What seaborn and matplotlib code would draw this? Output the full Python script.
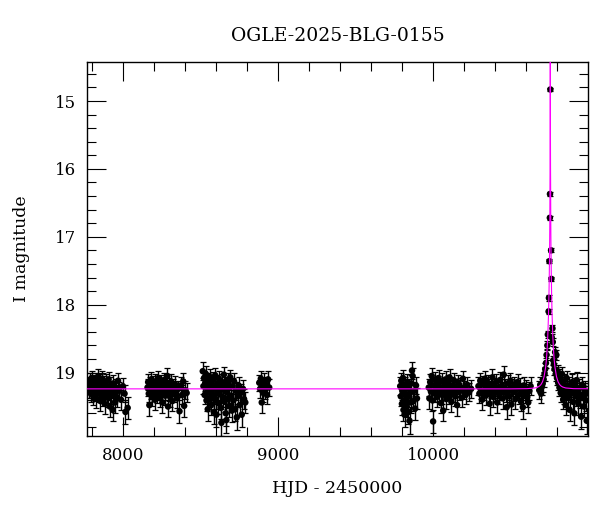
import numpy as np
import pandas as pd
import matplotlib
matplotlib.use("Agg")
import matplotlib.pyplot as plt
from matplotlib.ticker import MultipleLocator
import seaborn as sns

# (HJD-2450000, I mag, error) per observing season
season1 = [(7782, 19.18, .12), (7786, 19.25, .13), (7789, 19.12, .11), (7793, 19.30, .13), (7797, 19.21, .12),
           (7800, 19.08, .11), (7804, 19.27, .13), (7809, 19.34, .14), (7813, 19.15, .12), (7816, 19.22, .12),
           (7820, 19.29, .13), (7825, 19.11, .11), (7829, 19.38, .14), (7832, 19.19, .12), (7836, 19.24, .12),
           (7841, 19.06, .11), (7845, 19.31, .13), (7848, 19.26, .13), (7852, 19.14, .12), (7857, 19.42, .15),
           (7861, 19.20, .12), (7864, 19.28, .13), (7868, 19.09, .11), (7873, 19.35, .14), (7877, 19.23, .12),
           (7880, 19.17, .12), (7884, 19.46, .15), (7889, 19.26, .13), (7893, 19.13, .11), (7896, 19.32, .13),
           (7900, 19.21, .12), (7905, 19.37, .14), (7909, 19.10, .11), (7913, 19.27, .13), (7917, 19.50, .16),
           (7921, 19.19, .12), (7926, 19.33, .14), (7930, 19.24, .12), (7935, 19.55, .17), (7940, 19.16, .12),
           (7946, 19.29, .13), (7951, 19.44, .15), (7957, 19.22, .12), (7963, 19.36, .14), (7970, 19.12, .11),
           (7978, 19.27, .13), (7989, 19.40, .15), (8001, 19.20, .12), (8012, 19.31, .13), (8018, 19.58, .18),
           (8032, 19.52, .16)]
season2 = [(8160, 19.22, .12), (8164, 19.14, .12), (8168, 19.31, .13), (8172, 19.48, .16), (8176, 19.19, .12),
           (8180, 19.26, .13), (8185, 19.10, .11), (8189, 19.35, .14), (8193, 19.23, .12), (8198, 19.17, .12),
           (8202, 19.29, .13), (8207, 19.40, .15), (8211, 19.13, .11), (8216, 19.25, .13), (8220, 19.32, .13),
           (8225, 19.19, .12), (8229, 19.08, .11), (8234, 19.28, .13), (8238, 19.37, .14), (8243, 19.21, .12),
           (8247, 19.15, .12), (8252, 19.30, .13), (8256, 19.44, .15), (8261, 19.24, .12), (8265, 19.11, .11),
           (8270, 19.27, .13), (8274, 19.34, .14), (8279, 19.18, .12), (8283, 19.23, .12), (8288, 19.05, .11),
           (8292, 19.50, .16), (8297, 19.29, .13), (8301, 19.20, .12), (8306, 19.36, .14), (8310, 19.14, .12),
           (8315, 19.26, .13), (8320, 19.42, .15), (8325, 19.22, .12), (8331, 19.31, .13), (8337, 19.17, .12),
           (8344, 19.28, .13), (8351, 19.38, .14), (8358, 19.24, .12), (8366, 19.57, .17), (8374, 19.19, .12),
           (8382, 19.33, .14), (8390, 19.13, .12), (8396, 19.49, .16), (8404, 19.26, .13), (8412, 19.30, .14)]
season3 = [(8516, 18.98, .13), (8520, 19.20, .12), (8524, 19.08, .11), (8528, 19.33, .14), (8532, 19.15, .12),
           (8536, 19.02, .11), (8540, 19.41, .15), (8544, 19.24, .12), (8548, 19.54, .17), (8552, 19.12, .11),
           (8556, 19.29, .13), (8560, 19.06, .11), (8564, 19.37, .14), (8568, 19.19, .12), (8572, 19.47, .16),
           (8576, 19.26, .13), (8580, 19.10, .11), (8584, 19.33, .14), (8588, 19.58, .18), (8592, 19.21, .12),
           (8596, 19.04, .11), (8600, 19.39, .15), (8604, 19.62, .18), (8608, 19.16, .12), (8612, 19.28, .13),
           (8616, 19.45, .16), (8620, 19.09, .11), (8624, 19.31, .13), (8628, 19.22, .12), (8632, 19.52, .17),
           (8636, 19.74, .20), (8640, 19.14, .12), (8644, 19.36, .14), (8648, 19.25, .13), (8652, 19.03, .11),
           (8656, 19.43, .15), (8660, 19.18, .12), (8664, 19.60, .18), (8668, 19.70, .19), (8672, 19.29, .13),
           (8676, 19.11, .11), (8680, 19.38, .14), (8684, 19.23, .12), (8688, 19.49, .16), (8693, 19.07, .11),
           (8698, 19.34, .14), (8703, 19.56, .17), (8708, 19.20, .12), (8713, 19.41, .15), (8718, 19.13, .12),
           (8724, 19.54, .17), (8729, 19.27, .13), (8735, 19.66, .19), (8741, 19.35, .14), (8747, 19.19, .12),
           (8753, 19.48, .16), (8760, 19.30, .13), (8767, 19.62, .18), (8775, 19.24, .13), (8782, 19.39, .15),
           (8790, 19.44, .15)]
season4 = [(8880, 19.15, .12), (8885, 19.24, .13), (8890, 19.09, .12), (8896, 19.44, .16), (8901, 19.20, .12),
           (8906, 19.30, .13), (8911, 19.12, .12), (8917, 19.26, .13), (8923, 19.18, .12), (8930, 19.33, .14),
           (8937, 19.10, .12), (8944, 19.22, .13)]
season5 = [(9788, 19.20, .13), (9792, 19.35, .14), (9795, 19.12, .12), (9799, 19.46, .16), (9802, 19.27, .13),
           (9806, 19.08, .12), (9809, 19.55, .17), (9813, 19.31, .14), (9816, 19.62, .18), (9820, 19.18, .12),
           (9823, 19.40, .15), (9827, 19.24, .13), (9830, 19.50, .16), (9834, 19.14, .12), (9837, 19.36, .14),
           (9841, 19.58, .18), (9844, 19.22, .13), (9848, 19.71, .20), (9852, 19.30, .14), (9856, 19.44, .15),
           (9860, 19.16, .12), (9864, 18.97, .13), (9868, 19.05, .12), (9873, 19.42, .15), (9878, 19.27, .13),
           (9884, 19.53, .17), (9890, 19.19, .13), (9896, 19.38, .15)]
season6 = [(9972, 19.22, .13), (9976, 19.38, .15), (9981, 19.14, .12), (9986, 19.28, .13), (9991, 19.05, .12),
           (9996, 19.41, .15), (10000, 19.72, .17), (10005, 19.19, .12), (10010, 19.31, .13), (10015, 19.11, .12),
           (10020, 19.25, .13), (10025, 19.36, .14), (10030, 19.17, .12), (10035, 19.08, .12), (10040, 19.29, .13),
           (10045, 19.22, .12), (10050, 19.45, .15), (10055, 19.13, .12), (10060, 19.33, .14), (10065, 19.56, .16),
           (10070, 19.20, .12), (10075, 19.27, .13), (10080, 19.10, .12), (10085, 19.39, .15), (10090, 19.24, .13),
           (10095, 19.16, .12), (10100, 19.32, .14), (10106, 19.07, .12), (10112, 19.26, .13), (10118, 19.43, .15),
           (10124, 19.19, .12), (10130, 19.30, .13), (10136, 19.12, .12), (10142, 19.35, .14), (10148, 19.23, .13),
           (10155, 19.48, .16), (10162, 19.15, .12), (10169, 19.28, .13), (10176, 19.21, .13), (10184, 19.37, .14),
           (10192, 19.09, .12), (10200, 19.26, .13), (10210, 19.33, .14), (10220, 19.18, .12), (10232, 19.29, .13),
           (10245, 19.24, .13)]
season7 = [(10292, 19.20, .13), (10298, 19.31, .14), (10304, 19.12, .12), (10310, 19.26, .13), (10316, 19.40, .15),
           (10322, 19.17, .12), (10328, 19.28, .13), (10334, 19.09, .12), (10340, 19.34, .14), (10346, 19.22, .13),
           (10352, 19.15, .12), (10358, 19.30, .13), (10364, 19.46, .16), (10370, 19.19, .12), (10376, 19.25, .13),
           (10382, 19.07, .12), (10388, 19.36, .14), (10394, 19.21, .13), (10400, 19.29, .13), (10406, 19.14, .12),
           (10413, 19.44, .15), (10419, 19.24, .13), (10425, 19.32, .14), (10431, 19.11, .12), (10437, 19.27, .13),
           (10443, 19.19, .12), (10449, 19.38, .15), (10455, 19.03, .12), (10461, 19.23, .13), (10467, 19.30, .14),
           (10474, 19.51, .17), (10480, 19.16, .12), (10486, 19.27, .13), (10492, 19.35, .14), (10498, 19.12, .12),
           (10505, 19.47, .16), (10511, 19.22, .13), (10517, 19.29, .13), (10523, 19.18, .12), (10530, 19.39, .15),
           (10537, 19.25, .13), (10544, 19.14, .12), (10551, 19.33, .14), (10558, 19.21, .13), (10565, 19.42, .15),
           (10572, 19.28, .13), (10578, 19.51, .17), (10585, 19.19, .12), (10592, 19.31, .14), (10599, 19.24, .13),
           (10606, 19.36, .14), (10613, 19.44, .16), (10620, 19.27, .13), (10628, 19.20, .13)]
season8 = [(10684, 19.26, .13), (10690, 19.18, .12), (10696, 19.31, .14), (10700, 19.21, .12), (10706, 19.16, .12),
           (10712, 19.10, .11), (10718, 19.02, .10), (10722, 18.95, .09), (10727, 18.86, .08), (10731, 18.74, .07),
           (10736, 18.60, .06), (10739, 18.44, .05), (10744, 18.10, .04), (10746, 17.90, .04), (10749, 17.36, .03),
           (10752.1, 16.72, .03), (10752.9, 16.37, .03), (10755.4, 14.83, .02), (10760, 17.20, .03),
           (10762, 17.62, .03), (10764, 18.48, .05), (10769, 18.35, .05), (10771, 18.55, .06), (10774, 18.82, .07),
           (10778, 18.88, .08), (10782, 18.95, .09), (10786, 18.70, .07), (10790, 19.02, .10), (10794, 18.74, .07),
           (10798, 19.08, .10), (10802, 18.98, .09), (10806, 19.15, .11), (10810, 19.05, .10), (10814, 19.22, .12),
           (10818, 19.11, .11), (10822, 19.30, .13), (10826, 19.17, .11), (10830, 19.02, .10), (10834, 19.26, .12),
           (10838, 19.40, .14), (10842, 19.13, .11), (10846, 19.33, .13), (10850, 19.21, .12), (10855, 19.48, .15),
           (10860, 19.08, .11), (10865, 19.28, .13), (10870, 19.36, .14), (10875, 19.19, .12), (10880, 19.55, .16),
           (10885, 19.24, .12), (10890, 19.31, .13), (10895, 19.14, .12), (10900, 19.43, .15), (10905, 19.27, .13),
           (10910, 19.60, .17), (10915, 19.20, .12), (10920, 19.35, .14), (10925, 19.11, .12), (10930, 19.29, .13),
           (10936, 19.46, .16), (10942, 19.23, .13), (10948, 19.38, .14), (10954, 19.65, .18), (10960, 19.18, .12),
           (10966, 19.32, .14), (10972, 19.50, .16), (10978, 19.26, .13), (10984, 19.41, .15), (10990, 19.71, .19),
           (10996, 19.30, .14)]

# microlensing model curve (t0 ~ 10755), sampled by hand
model_hjd = [7700, 10500, 10605, 10655, 10675, 10685, 10695, 10705, 10715, 10725, 10730, 10735, 10739, 10743,
             10745, 10747, 10748.5, 10750, 10751, 10752, 10753, 10753.5, 10754, 10754.5, 10754.75, 10755,
             10755.25, 10755.5, 10756, 10756.5, 10757, 10758, 10759, 10760, 10761.5, 10763, 10765, 10767,
             10771, 10775, 10780, 10785, 10795, 10805, 10815, 10825, 10835, 10855, 10905, 11100]
model_mag = [19.24, 19.24, 19.237, 19.227, 19.213, 19.199, 19.176, 19.135, 19.06, 18.92, 18.81, 18.64, 18.45,
             18.18, 18.00, 17.78, 17.56, 17.28, 17.05, 16.74, 16.18, 15.99, 15.56, 14.84, 14.21, 13.49,
             14.21, 14.84, 15.56, 15.99, 16.18, 16.74, 17.05, 17.28, 17.56, 17.78, 18.00, 18.18,
             18.45, 18.64, 18.81, 18.92, 19.06, 19.135, 19.176, 19.199, 19.213, 19.227, 19.237, 19.24]

seasons = [season1, season2, season3, season4, season5, season6, season7, season8]
df = pd.DataFrame([row for s in seasons for row in s], columns=["hjd", "mag", "err"])
model = pd.DataFrame({"hjd": model_hjd, "mag": model_mag})

sns.set_style("ticks")
plt.rcParams["font.family"] = ["DejaVu Serif"]
plt.rcParams["text.color"] = "black"
plt.rcParams["axes.labelcolor"] = "black"
plt.rcParams["xtick.color"] = "black"
plt.rcParams["ytick.color"] = "black"

fig = plt.figure(figsize=(6, 5.12), dpi=100)
ax = fig.add_axes([0.1455, 0.149, 0.834, 0.7293])

ax.errorbar(df["hjd"], df["mag"], yerr=df["err"], fmt="none", ecolor="black",
            elinewidth=1.0, capsize=2.5, capthick=0.9, zorder=2)
sns.scatterplot(data=df, x="hjd", y="mag", color="black", s=22,
                edgecolor="none", ax=ax, zorder=3)
sns.lineplot(data=model, x="hjd", y="mag", color="#ff00ff", lw=0.8, ax=ax, zorder=4)

ax.set_xlim(7772, 10996)
ax.set_ylim(19.93, 14.43)
ax.xaxis.set_major_locator(MultipleLocator(1000))
ax.xaxis.set_minor_locator(MultipleLocator(200))
ax.yaxis.set_major_locator(MultipleLocator(1))
ax.yaxis.set_minor_locator(MultipleLocator(0.2))
ax.tick_params(which="both", direction="in", top=True, right=True, width=0.8, labelsize=12)
ax.tick_params(which="major", length=13.7, pad=8)
ax.tick_params(which="minor", length=6.7)
for sp in ax.spines.values():
    sp.set_color("black")
    sp.set_linewidth(1.0)

ax.set_xlabel("HJD - 2450000", fontsize=12.5, labelpad=12)
ax.set_ylabel("I magnitude", fontsize=12.5, labelpad=18)
ax.set_title("OGLE-2025-BLG-0155", fontsize=13.5, pad=15.5)

fig.savefig("out.png", dpi=100)
